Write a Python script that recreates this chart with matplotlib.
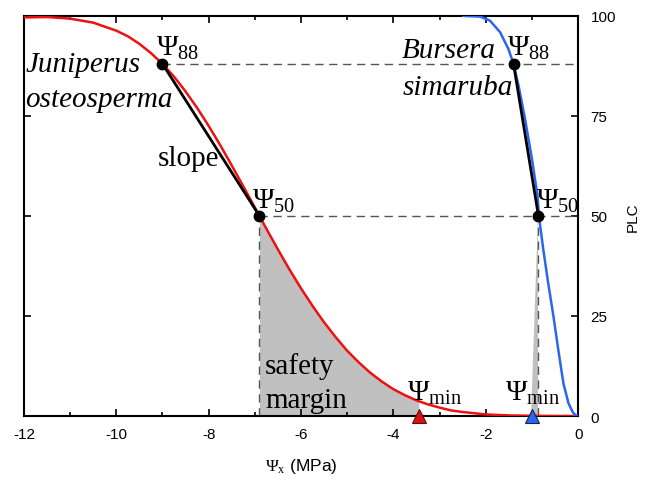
import matplotlib
matplotlib.use("Agg")
import matplotlib.pyplot as plt
import numpy as np

plt.rcParams["mathtext.fontset"] = "custom"
plt.rcParams["mathtext.rm"] = "Liberation Serif"
plt.rcParams["mathtext.it"] = "Liberation Serif:italic"

# Juniperus osteosperma vulnerability curve
jun_psi = [-12, -11.5, -11, -10.5, -10, -9.75, -9.5, -9.25, -9, -8.75, -8.5, -8.25, -8,
           -7.75, -7.5, -7.25, -7, -6.75, -6.5, -6.25, -6, -5.75, -5.5, -5.25, -5,
           -4.75, -4.5, -4.25, -4, -3.75, -3.5, -3.25, -3, -2.75, -2.5, -2, -1.5, -1,
           -0.5, 0]
jun_plc = [99.6, 99.7, 99.3, 98.3, 96.3, 94.9, 93.0, 90.7, 88.0, 84.8, 81.1, 77.0, 72.5,
           67.7, 62.6, 57.4, 52.1, 46.8, 41.6, 36.6, 31.9, 27.5, 23.4, 19.7, 16.3,
           13.4, 10.8, 8.6, 6.7, 5.2, 3.9, 2.9, 2.1, 1.4, 1.0, 0.4, 0.15, 0.05,
           0.01, 0.0]

# Bursera simaruba vulnerability curve
bur_psi = [-2.49, -2.12, -1.91, -1.69, -1.51, -1.40, -1.29, -1.15, -1.00, -0.88, -0.85,
           -0.755, -0.65, -0.535, -0.43, -0.32, -0.21, -0.12, -0.065, 0.0]
bur_plc = [100, 99.8, 98.8, 95.9, 91.7, 88.0, 82.5, 74.2, 64.2, 55.0, 50.0,
           41.6, 33.3, 24.9, 16.5, 8.2, 3.2, 1.0, 0.3, 0.0]

jun_p88, jun_p50, jun_pmin = -9.0, -6.9, -3.45
bur_p88, bur_p50, bur_pmin = -1.40, -0.86, -1.0

x_ticks = [-12, -10, -8, -6, -4, -2, 0]
y_ticks = [0, 25, 50, 75, 100]

serif = "Liberation Serif"
sans = "Liberation Sans"

fig = plt.figure(figsize=(6.46, 4.81), dpi=100)
ax = fig.add_axes([0.037, 0.133, 0.858, 0.832])

# shaded safety margins
xs = np.array(jun_psi)
ys = np.array(jun_plc)
mask = (xs > jun_p50) & (xs < jun_pmin)
sx = np.concatenate([[jun_p50], xs[mask], [jun_pmin]])
sy = np.concatenate([[50.0], ys[mask], [np.interp(jun_pmin, xs, ys)]])
ax.fill_between(sx, 0, sy, color="#c0c0c0", zorder=1, linewidth=0)
ax.fill([bur_pmin - 0.03, bur_p50, bur_p50], [0, 0, 50], color="#c0c0c0", zorder=1,
        linewidth=0)

# dashed guide lines
dash = dict(color="#555555", lw=1.0, ls=(0, (6, 4)), zorder=2)
ax.plot([jun_p88, 0], [88, 88], **dash)
ax.plot([jun_p50, 0], [50, 50], **dash)
ax.plot([jun_p50, jun_p50], [0, 50], **dash)
ax.plot([bur_p50, bur_p50], [0, 50], **dash)

# curves
ax.plot(jun_psi, jun_plc, color="#ee1111", lw=1.8, zorder=3)
ax.plot(bur_psi, bur_plc, color="#2a66ee", lw=1.8, zorder=3)

# slope lines
ax.plot([jun_p88, jun_p50], [88, 50], color="black", lw=2.0, zorder=4)
ax.plot([bur_p88, bur_p50], [88, 50], color="black", lw=2.0, zorder=4)

# points
ax.plot([jun_p88, jun_p50, bur_p88, bur_p50], [88, 50, 88, 50], "o", color="black",
        ms=7.5, zorder=5)

# psi_min triangles
ax.plot([jun_pmin], [0], marker="^", ms=10, color="#dd1111", mec="#551111", mew=0.8,
        zorder=6, clip_on=False)
ax.plot([bur_pmin], [0], marker="^", ms=10, color="#2a66ee", mec="#112255", mew=0.8,
        zorder=6, clip_on=False)

# labels
fs = 21
ax.text(-9.15, 92.3, r"$\Psi_{88}$", fontsize=fs, ha="left", va="center")
ax.text(-7.06, 54.0, r"$\Psi_{50}$", fontsize=fs, ha="left", va="center")
ax.text(-1.55, 92.3, r"$\Psi_{88}$", fontsize=fs, ha="left", va="center")
ax.text(-0.92, 54.0, r"$\Psi_{50}$", fontsize=fs, ha="left", va="center")
ax.text(-3.70, 6.0, r"$\Psi_{\mathrm{min}}$", fontsize=fs, ha="left", va="center")
ax.text(-1.58, 6.0, r"$\Psi_{\mathrm{min}}$", fontsize=fs, ha="left", va="center")

ax.text(-11.97, 86.3, "Juniperus", fontsize=fs, family=serif, style="italic",
        ha="left", va="baseline")
ax.text(-11.97, 77.4, "osteosperma", fontsize=fs, family=serif, style="italic",
        ha="left", va="baseline")
ax.text(-3.81, 89.7, "Bursera", fontsize=fs, family=serif, style="italic",
        ha="left", va="baseline")
ax.text(-3.81, 80.5, "simaruba", fontsize=fs, family=serif, style="italic",
        ha="left", va="baseline")
ax.text(-7.76, 64.5, "slope", fontsize=fs, family=serif, ha="right", va="center")
ax.text(-6.78, 10.8, "safety", fontsize=fs, family=serif, ha="left", va="baseline")
ax.text(-6.78, 2.2, "margin", fontsize=fs, family=serif, ha="left", va="baseline")

# axes styling
ax.set_xlim(-12, 0)
ax.set_ylim(0, 100)
ax.set_xticks(x_ticks)
ax.set_xticklabels([str(t) for t in x_ticks], family=sans, fontsize=11)
ax.set_xticks(np.arange(-11, 0, 2), minor=True)
ax.tick_params(axis="x", which="major", direction="in", length=5, width=1.2, top=True,
               pad=8)
ax.tick_params(axis="x", which="minor", direction="in", length=3, width=1.2, top=True)
ax.yaxis.tick_right()
ax.set_yticks(y_ticks)
ax.set_yticklabels([str(t) for t in y_ticks], family=sans, fontsize=11)
ax.tick_params(axis="y", direction="in", length=5, width=1.2, left=True, right=True, pad=9)
ax.yaxis.set_label_position("right")
ax.set_ylabel("PLC", family=sans, fontsize=11, labelpad=7)
ax.set_xlabel(r"$\Psi_{\mathrm{x}}$ (MPa)", family=sans, fontsize=12.5, labelpad=11)
for s in ax.spines.values():
    s.set_linewidth(1.5)

fig.savefig("out.png", dpi=100)
